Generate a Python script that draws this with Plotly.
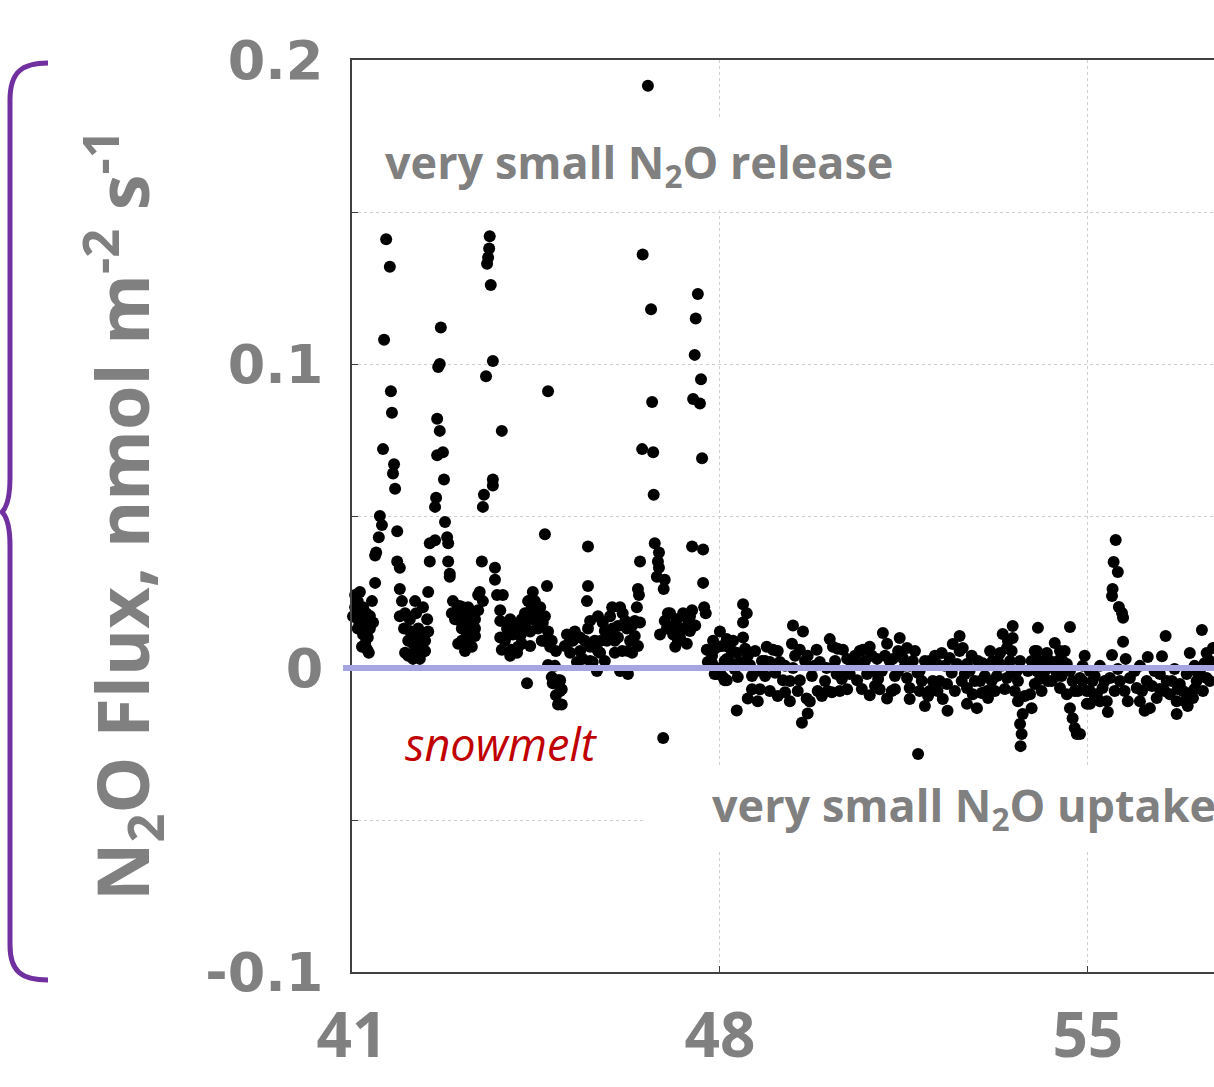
import plotly.graph_objects as go

# ---------------- data (day of year, N2O flux nmol m-2 s-1) ----------------
seg_a = [(41.65,0.141),(41.72,0.132),(41.61,0.108),(41.74,0.091),(41.76,0.084),(41.59,0.072),(41.80,0.067),(41.78,0.064),
         (42.69,0.112),(42.67,0.100),(42.64,0.099),(42.62,0.082),(42.67,0.078),(42.62,0.070),(42.73,0.071),(42.75,0.062),
         (41.82,0.059),(41.53,0.050),(41.57,0.047),(41.51,0.043),(41.46,0.038),(41.44,0.037),(41.44,0.028),(41.15,0.025),
         (41.08,0.021),(41.21,0.020),(41.02,0.017),(41.11,0.016),(41.25,0.016),(41.40,0.015),(41.21,0.011),(41.30,0.010),
         (41.25,0.008),(41.32,0.005),(41.86,0.045),(41.86,0.035),(41.91,0.033),(41.91,0.026),(41.95,0.022),(42.01,0.018),
         (42.10,0.016),(42.20,0.022),(42.14,0.011),(42.16,0.008),(42.01,0.005),(42.16,0.003),(42.33,0.005),(42.35,0.020),
         (42.43,0.016),(42.26,0.013),(42.48,0.035),(42.45,0.025),(42.48,0.041),(42.58,0.042),(42.58,0.053),(42.60,0.056),
         (42.77,0.048),(42.81,0.043),(42.83,0.041),(42.83,0.035),(42.86,0.031),(42.86,0.030),(42.92,0.022),(42.90,0.018),
         (42.96,0.016),
         (41.06,0.020),(41.15,0.018),(41.27,0.018),(41.34,0.013),(41.11,0.013),(41.19,0.007),(41.29,0.006),(41.06,0.024),
         (41.38,0.022),(41.99,0.013),(42.07,0.009),(42.22,0.018),(42.26,0.007),(42.29,0.0105),(42.39,0.009),(42.07,0.004),
         (42.29,0.003),(42.45,0.012),(41.91,0.017),
         (41.11,0.022),(41.21,0.0148),(41.34,0.0171),(42.10,0.0122),(42.20,0.0056),(42.39,0.0056)]

seg_b = [(43.09,0.013),(43.02,0.008),(43.24,0.010),(43.28,0.007),(43.34,0.013),(43.30,0.018),(43.40,0.024),(43.43,0.025),
         (43.11,0.020),(43.21,0.020),(43.49,0.053),(43.51,0.057),(43.68,0.060),(43.47,0.035),(43.72,0.033),(43.72,0.029),
         (43.76,0.024),(43.87,0.024),(43.82,0.019),(43.82,0.010),(43.95,0.013),(44.01,0.016),(44.06,0.011),(43.85,0.006),
         (44.04,0.006),(44.14,0.005),(44.23,0.008),(44.23,0.016),(44.29,0.018),(44.42,0.020),(44.52,0.019),(44.58,0.017),
         (44.54,0.013),(44.63,0.015),(44.44,0.025),(44.71,0.027),(44.67,0.044),(44.33,-0.005),(44.61,0.009),(44.77,0.007),
         (44.73,0.001),(44.80,-0.003),(44.82,-0.005),(44.92,-0.012),
         (43.62,0.142),(43.61,0.138),(43.59,0.135),(43.57,0.133),(43.64,0.126),(43.68,0.101),(43.55,0.096),(43.85,0.078),
         (43.68,0.062),(44.73,0.091),
         (43.00,0.019),(43.05,0.0155),(43.15,0.017),(43.17,0.012),(43.24,0.015),(43.34,0.016),(43.40,0.019),(43.21,0.007),
         (43.09,0.009),(43.49,0.022),(43.91,0.009),(44.10,0.014),(44.20,0.0105),(44.29,0.014),(44.39,0.017),(44.48,0.0155),
         (44.35,0.022),(44.58,0.020),(44.67,0.017),(44.16,0.007),(44.01,0.004),(44.39,0.012),(44.73,0.012),(44.80,0.009),
         (44.88,0.0056),(44.86,0.0007),(44.92,-0.004),(44.96,-0.0076),(44.88,-0.009),
         (43.05,0.0204),(43.24,0.0188),(43.34,0.0105),(43.15,0.0056),(43.82,0.0155),(44.01,0.0115),(44.23,0.0115),
         (44.48,0.022),(44.39,0.0072),(44.67,0.0089)]

seg_c = [(45.49,0.040),(45.49,0.027),(45.47,0.022),(46.48,0.035),(46.76,0.041),(46.84,0.038),(46.82,0.035),(46.84,0.033),
         (46.80,0.030),(46.95,0.029),(46.93,0.026),(46.44,0.026),(46.46,0.024),(46.42,0.020),(46.48,0.015),(47.47,0.040),
         (47.68,0.039),(47.68,0.028),(47.70,0.020),(47.73,0.018),(46.92,-0.023),
         (45.09,0.011),(45.20,0.009),(45.34,0.010),(45.53,0.007),(45.58,0.002),(45.66,-0.001),(45.77,0.015),(45.91,0.017),
         (45.96,0.013),(46.06,0.010),(46.15,0.018),(46.23,0.013),(46.29,0.009),(46.33,0.005),(46.25,-0.002),(46.10,-0.001),
         (46.00,0.005),(45.72,0.005),(45.85,0.009),(45.15,0.005),(45.28,0.002),(45.39,0.003),(44.96,-0.004),(44.99,-0.007),
         (44.99,-0.012),
         (47.05,0.018),(47.18,0.016),(46.99,0.013),(46.86,0.011),(47.11,0.011),(47.24,0.010),(47.33,0.013),(47.39,0.016),
         (47.47,0.019),(47.37,0.008),(47.20,0.009),
         (48.00,0.012),(47.87,0.009),(47.75,0.006),(47.77,0.002),(47.94,0.000),(48.06,-0.003),(48.13,-0.004),(47.90,-0.002),
         (48.15,0.007),(48.13,0.003),
         (46.63,0.1915),(46.53,0.136),(47.58,0.123),(46.69,0.118),(47.54,0.115),(47.52,0.103),(47.64,0.095),(46.71,0.0875),
         (47.49,0.0885),(47.62,0.087),(46.52,0.072),(46.73,0.071),(47.66,0.069),(46.74,0.057),
         (45.05,0.0072),(45.24,0.012),(45.43,0.009),(45.49,0.013),(45.62,0.009),(45.68,0.0056),(45.81,0.0023),(45.91,0.0105),
         (46.00,0.009),(46.14,0.0056),(46.20,0.0155),(46.33,0.014),(46.38,0.0105),(46.44,0.0072),(46.10,0.020),(45.95,0.020),
         (45.68,0.017),(45.53,0.0155),
         (46.95,0.0155),(47.09,0.014),(47.28,0.013),(47.43,0.017),(47.15,0.007),(47.30,0.018),(47.53,0.014),
         (45.15,0.0089),(45.34,0.0056),(45.53,0.0023),(45.72,0.0089),(45.81,0.0122),(46.06,0.0138),(46.25,0.0056),
         (46.38,0.0155),(47.01,0.018),(47.16,0.0115),(47.43,0.0122),(47.85,0.0016),(48.00,-0.0016)]

seg_d = [(48.44,0.021),(48.51,0.018),(48.44,0.015),(47.81,0.002),(47.96,0.007),(48.13,0.0095),(48.25,0.009),(48.44,0.010),
         (48.32,0.005),(48.19,0.002),(48.38,0.002),(47.94,-0.002),(48.09,-0.004),(48.34,-0.003),(48.57,0.001),(48.70,-0.001),
         (48.61,-0.007),(48.53,-0.010),(48.32,-0.014),(48.76,-0.007),(48.89,0.007),(49.01,0.006),(48.95,0.002),(49.14,0.002),
         (49.20,-0.004),(49.24,-0.008),(49.39,0.014),(49.58,0.012),(49.37,0.008),(49.52,0.006),(49.39,0.000),(49.52,-0.004),
         (49.65,-0.010),(49.71,-0.011),(49.67,-0.015),(49.56,-0.018),(49.84,0.006),(49.90,0.002),(50.09,0.0095),(50.15,0.007),
         (50.03,0.000),(50.22,-0.002),(50.13,-0.008),(50.34,0.006),(50.42,0.003),(50.47,-0.002),(50.42,-0.007),(50.61,-0.004),
         (50.72,0.006),(50.85,0.007),(50.99,0.003),(51.10,0.0115),(51.18,0.008),(50.80,-0.002),(50.85,-0.009),(51.04,-0.007),
         (51.18,-0.010),(51.29,0.003),(51.39,-0.001),(51.33,-0.007),(50.61,0.001),(50.91,-0.001),
         (47.85,0.004),(48.04,0.0072),(48.23,0.0056),(48.48,0.0063),(48.67,0.0056),(48.80,0.0023),(48.86,-0.0026),
         (49.05,-0.0016),(48.95,-0.0076),(49.10,-0.0092),(49.33,-0.0043),(49.43,0.004),(49.62,0.0023),(49.75,-0.0026),
         (49.86,-0.0076),(50.00,-0.0043),(50.19,0.0023),(50.28,-0.0076),(50.51,0.0007),(50.66,0.0056),(50.76,0.0023),
         (50.95,-0.0059),(51.08,-0.001),(51.23,0.0023),(51.33,-0.0026),(51.14,0.004),(50.38,-0.0016),(49.94,-0.0092),
         (49.33,-0.0109),(48.72,-0.0109),
         (47.90,0.0063),(48.09,0.0023),(48.28,-0.0003),(48.53,0.004),(48.61,-0.0026),(48.86,0.0023),(49.10,0.0056),
         (49.24,0.0007),(49.48,-0.0076),(49.67,0.004),(49.80,0.0007),(50.05,-0.0076),(50.24,0.0063),(50.32,-0.0036),
         (50.57,0.004),(50.70,-0.0069),(50.89,0.004),(51.01,-0.0036),(51.27,-0.0076),(51.39,0.0056)]

seg_e = [(51.42,0.0099),(51.56,0.0066),(51.48,0.0033),(51.67,0.0023),(51.56,-0.0033),(51.61,-0.0066),(51.61,-0.0102),
         (51.90,-0.0125),(51.77,-0.0283),(51.80,-0.0010),(51.99,0.0023),(52.13,0.0013),(52.05,-0.0043),(51.99,-0.0076),
         (52.18,-0.0043),(52.24,-0.0102),(52.32,-0.0053),(52.37,0.0033),(52.43,0.0079),(52.56,0.0105),(52.62,0.0066),
         (52.51,0.0013),(52.70,0.0013),(52.66,-0.0020),(52.70,-0.0066),(52.70,-0.0118),(52.89,-0.0132),(52.81,-0.0086),
         (52.95,-0.0043),(53.00,0.0016),(53.08,-0.0076),(53.10,-0.0099),(53.19,0.0023),(53.27,-0.0026),(53.33,0.0049),
         (53.38,0.0112),(53.57,0.0138),(53.57,0.0099),(53.46,0.0066),(53.52,0.0023),(53.65,-0.0010),(53.67,-0.0043),
         (53.46,-0.0033),(53.67,-0.0109),(53.76,-0.0151),(53.71,-0.0184),(53.74,-0.0217),(53.72,-0.0257),(53.93,-0.0132),
         (53.90,-0.0086),(53.99,-0.0053),(54.09,-0.0036),(54.03,-0.0010),(54.03,0.0056),(54.22,0.0049),(54.37,0.0082),
         (54.22,0.0013),(54.31,-0.0043),(54.41,-0.0026),(54.52,0.0023),(54.60,0.0013),(54.47,-0.0066),(54.60,-0.0086),
         (54.66,-0.0132),(54.71,-0.0165),(54.75,-0.0197),(54.79,-0.0217),(54.71,-0.0043),(54.85,-0.0033),(54.98,-0.0076),
         (55.04,-0.0118),(55.09,-0.0043),(54.05,0.0132),(54.66,0.0135),
         (51.52,0.0007),(51.71,0.0056),(51.84,-0.0043),(51.96,-0.0092),(52.09,0.004),(52.28,0.0007),(52.47,-0.0076),
         (52.56,0.0056),(52.79,0.004),(52.85,-0.0043),(53.04,-0.0026),(53.14,0.0056),(53.23,-0.0076),(53.36,0.0007),
         (53.55,0.0056),(53.61,-0.0076),(53.80,-0.0092),(53.86,-0.001),(54.12,-0.0076),(54.18,-0.001),(54.28,0.0023),
         (54.43,0.0023),(54.50,-0.0026),(54.56,0.0056),(54.81,-0.0076),(54.90,0.0007),(55.13,-0.0092),(54.09,0.0023),
         (51.80,-0.0076),(52.33,-0.0141),
         (51.61,0.0007),(51.76,-0.0016),(51.90,0.0023),(52.14,-0.0076),(52.22,0.0049),(52.41,-0.0016),(52.60,-0.0043),
         (52.75,-0.001),(52.91,0.0023),(52.98,-0.0082),(53.17,-0.0043),(53.29,0.0023),(53.42,-0.0069),(53.48,0.0089),
         (53.71,0.0023),(53.55,-0.0016),(53.93,0.0023),(53.99,0.0056),(54.24,-0.0043),(54.37,-0.0003),(54.47,0.0056),
         (54.66,-0.001),(54.75,-0.0076),(54.94,0.004),(55.04,-0.001)]

seg_f = [(55.53,0.0421),(55.49,0.0349),(55.57,0.0316),(55.47,0.0260),(55.46,0.0237),(55.59,0.0201),(55.65,0.0181),
         (55.67,0.0165),(55.67,0.0086),(55.46,0.0043),(55.72,0.0030),(56.14,0.0036),(56.48,0.0105),(57.17,0.0125),
         (56.41,0.0039),(56.94,0.0049),(57.26,0.0049),(57.38,0.0066),(54.90,-0.0043),(55.04,-0.0076),(55.17,-0.0086),
         (55.28,-0.0066),(55.36,-0.0109),(55.42,-0.0033),(54.98,-0.0118),(55.38,-0.0145),(54.85,-0.0217),(55.80,-0.0033),
         (55.76,-0.0109),(55.93,-0.0066),(55.99,-0.0109),(56.12,-0.0043),(56.18,-0.0132),(56.31,-0.0099),(56.37,-0.0020),
         (56.50,-0.0043),(56.56,-0.0086),(56.69,-0.0109),(56.69,-0.0151),(56.75,-0.0053),(56.88,-0.0020),(56.94,-0.0082),
         (57.00,-0.0099),(57.07,-0.0043),(57.13,-0.0010),(57.26,-0.0033),(57.32,0.0023),
         (55.89,-0.001),(56.03,-0.0076),(56.22,-0.0059),(56.27,-0.001),(56.46,-0.0076),(56.60,-0.0043),(56.81,-0.0076),
         (56.84,-0.0109),(57.03,-0.0069),(57.19,-0.0076),(57.32,-0.0043),(56.65,-0.0003),(57.03,0.0007),(56.08,-0.0141),
         (56.90,-0.0125),(55.13,-0.0026),(55.23,-0.0109),(55.51,-0.0076),(55.61,-0.0043),
         (55.23,0.0007),(55.32,-0.0043),(55.57,-0.0003),(55.70,-0.0076),(55.99,0.0007),(56.37,-0.0069),(56.71,-0.0069),
         (57.09,-0.0016),(57.22,0.0016)]

x_ticks = [41, 48, 55]
y_ticks = [-0.1, -0.05, 0, 0.05, 0.1, 0.15, 0.2]
y_ticktext = ["-0.1", "", "0", "", "0.1", "", "0.2"]

points = seg_a + seg_b + seg_c + seg_d + seg_e + seg_f
days = [p[0] for p in points]
flux = [p[1] for p in points]

GRAY = "#808080"

fig = go.Figure()
fig.add_trace(go.Scatter(
    x=days, y=flux, mode="markers",
    marker=dict(color="black", size=12, line=dict(width=0)),
    cliponaxis=False, showlegend=False, hoverinfo="x+y"))

W, H = 1214, 1087
L, T, B = 352, 60, 115

fig.update_layout(
    width=W, height=H,
    margin=dict(l=L, r=0, t=T, b=B),
    paper_bgcolor="white", plot_bgcolor="white",
    showlegend=False,
)

fig.update_xaxes(
    range=[41, 57.4], tickvals=x_ticks, ticktext=[str(v) for v in x_ticks],
    showline=True, linecolor="#404040", linewidth=1.5, mirror=True,
    ticks="inside", ticklen=6, tickcolor="#404040",
    showgrid=True, gridcolor="#cfcfcf", griddash="dot", gridwidth=1,
    zeroline=False,
    tickfont=dict(family="Open Sans", size=62, color=GRAY, weight="bold"),
    ticklabelstandoff=9,
)
fig.update_yaxes(
    range=[-0.1, 0.2], tickvals=y_ticks, ticktext=y_ticktext,
    showline=True, linecolor="#404040", linewidth=1.5, mirror=False,
    ticks="inside", ticklen=6, tickcolor="#404040",
    showgrid=True, gridcolor="#cfcfcf", griddash="dot", gridwidth=1,
    zeroline=False,
    tickfont=dict(family="DejaVu Sans", size=54, color=GRAY, weight="bold"),
    ticklabelstandoff=16,
)

# white boxes behind the labels (hide gridlines, not data)
fig.add_shape(type="rect", xref="x", yref="y", x0=41.44, x1=51.7, y0=0.1505, y1=0.1806,
              fillcolor="white", line=dict(width=0), layer="between")
fig.add_shape(type="rect", xref="x", yref="y", x0=46.57, x1=58.5, y0=-0.0602, y1=-0.0322,
              fillcolor="white", line=dict(width=0), layer="between")

# zero line
fig.add_shape(type="line", xref="paper", yref="y", x0=-0.0104, x1=1, y0=0, y1=0,
              line=dict(color="#a5a5e1", width=6), layer="above")

# annotations
fig.add_annotation(x=41.59, y=0.1658, xref="x", yref="y", xanchor="left", yanchor="middle",
                   text="very small N<sub>2</sub>O release", showarrow=False,
                   font=dict(family="Open Sans", size=45, color=GRAY, weight="bold"))
fig.add_annotation(x=47.81, y=-0.0457, xref="x", yref="y", xanchor="left", yanchor="middle",
                   text="very small N<sub>2</sub>O uptake", showarrow=False,
                   font=dict(family="Open Sans", size=45, color=GRAY, weight="bold"))
fig.add_annotation(x=41.97, y=-0.0247, xref="x", yref="y", xanchor="left", yanchor="middle",
                   text="<i>snowmelt</i>", showarrow=False,
                   font=dict(family="Open Sans", size=45, color="#c00000"))

PW, PH = W - L, H - T - B
def px(xp):
    return (xp - L) / PW
def py(yp):
    return (H - B - yp) / PH

fig.add_annotation(x=px(122), y=py(515), xref="paper", yref="paper", xanchor="center", yanchor="middle",
                   textangle=-90, showarrow=False,
                   text="N<sub>2</sub>O Flux, nmol m<sup>-2</sup> s<sup>-1</sup>",
                   font=dict(family="Open Sans", size=72, color=GRAY, weight="bold"))

# purple brace
brace_pts = [("M", [(48, 63)]), ("C", [(22, 63), (10, 72), (10, 100)]), ("L", [(10, 478)]),
             ("C", [(10, 498), (6, 508), (2, 512)]), ("C", [(6, 516), (10, 526), (10, 546)]),
             ("L", [(10, 945)]), ("C", [(10, 972), (22, 980), (48, 980)])]
path = " ".join(cmd + " " + " ".join(f"{px(a):.5f},{py(b):.5f}" for a, b in pts) for cmd, pts in brace_pts)
fig.add_shape(type="path", xref="paper", yref="paper", path=path,
              line=dict(color="#7030a0", width=5), layer="above")

fig.write_html("out.html", config={"displayModeBar": False},
               post_script="document.body.style.margin='0';document.body.style.overflow='hidden';")
